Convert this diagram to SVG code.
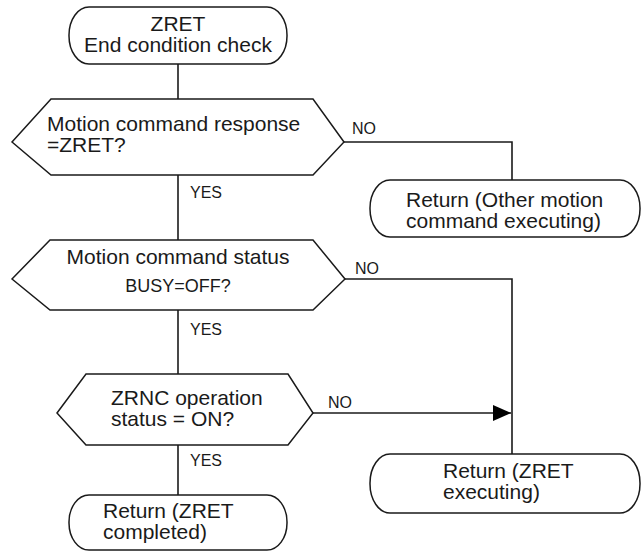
<svg xmlns="http://www.w3.org/2000/svg" width="642" height="552" viewBox="0 0 642 552">
<style>
.s{fill:#fff;stroke:#1a1a1a;stroke-width:1.5}
.c{fill:none;stroke:#1a1a1a;stroke-width:1.6}
text{font-family:"Liberation Sans",Arial,sans-serif;fill:#1a1a1a}
.t{font-size:21px}
.m{font-size:18px}
.l{font-size:16px}
</style>
<defs>
<marker id="ah" markerWidth="18" markerHeight="16" refX="18" refY="8" orient="auto" markerUnits="userSpaceOnUse">
<path d="M0,0 L18,8 L0,16 Z" fill="#000"/>
</marker>
</defs>
<g id="connectors">
<line class="c" x1="178" y1="64" x2="178" y2="99"/>
<line class="c" x1="178" y1="175" x2="178" y2="240"/>
<line class="c" x1="178" y1="310" x2="178" y2="374"/>
<line class="c" x1="178" y1="445" x2="178" y2="495"/>
<polyline class="c" points="344,142 512,142 512,180"/>
<polyline class="c" points="345,279 512,279 512,454"/>
<line class="c" x1="313" y1="413" x2="511" y2="413" marker-end="url(#ah)"/>
<text class="l" x="190" y="198">YES</text>
<text class="l" x="190" y="335">YES</text>
<text class="l" x="190" y="466">YES</text>
<text class="l" x="352" y="134">NO</text>
<text class="l" x="355" y="274">NO</text>
<text class="l" x="328" y="408">NO</text>
</g>
<g id="start">
<rect class="s" x="69" y="7" width="218" height="57" rx="20" ry="28"/>
<text class="t" x="178" y="31" text-anchor="middle">ZRET</text>
<text class="t" x="178" y="52" text-anchor="middle">End condition check</text>
</g>
<g id="decision1">
<polygon class="s" points="12,142 51,99 313,99 344,142 313,175 51,175"/>
<text class="t" x="47" y="131">Motion command response</text>
<text class="t" x="47" y="152">=ZRET?</text>
</g>
<g id="return-other">
<rect class="s" x="370" y="180" width="270" height="57" rx="20" ry="28"/>
<text class="t" x="406" y="207">Return (Other motion</text>
<text class="t" x="406" y="228">command executing)</text>
</g>
<g id="decision2">
<polygon class="s" points="12,279 50,240 313,240 345,279 313,310 50,310"/>
<text class="t" x="178" y="264" text-anchor="middle">Motion command status</text>
<text class="m" x="178" y="292" text-anchor="middle">BUSY=OFF?</text>
</g>
<g id="decision3">
<polygon class="s" points="57,413 86,374 288,374 313,413 288,445 86,445"/>
<text class="t" x="111" y="405">ZRNC operation</text>
<text class="t" x="111" y="426">status = ON?</text>
</g>
<g id="return-executing">
<rect class="s" x="370" y="454" width="270" height="59" rx="20" ry="29"/>
<text class="t" x="443" y="478">Return (ZRET</text>
<text class="t" x="443" y="499">executing)</text>
</g>
<g id="return-completed">
<rect class="s" x="69" y="495" width="218" height="55" rx="20" ry="27"/>
<text class="t" x="103" y="518">Return (ZRET</text>
<text class="t" x="103" y="539">completed)</text>
</g>
</svg>
